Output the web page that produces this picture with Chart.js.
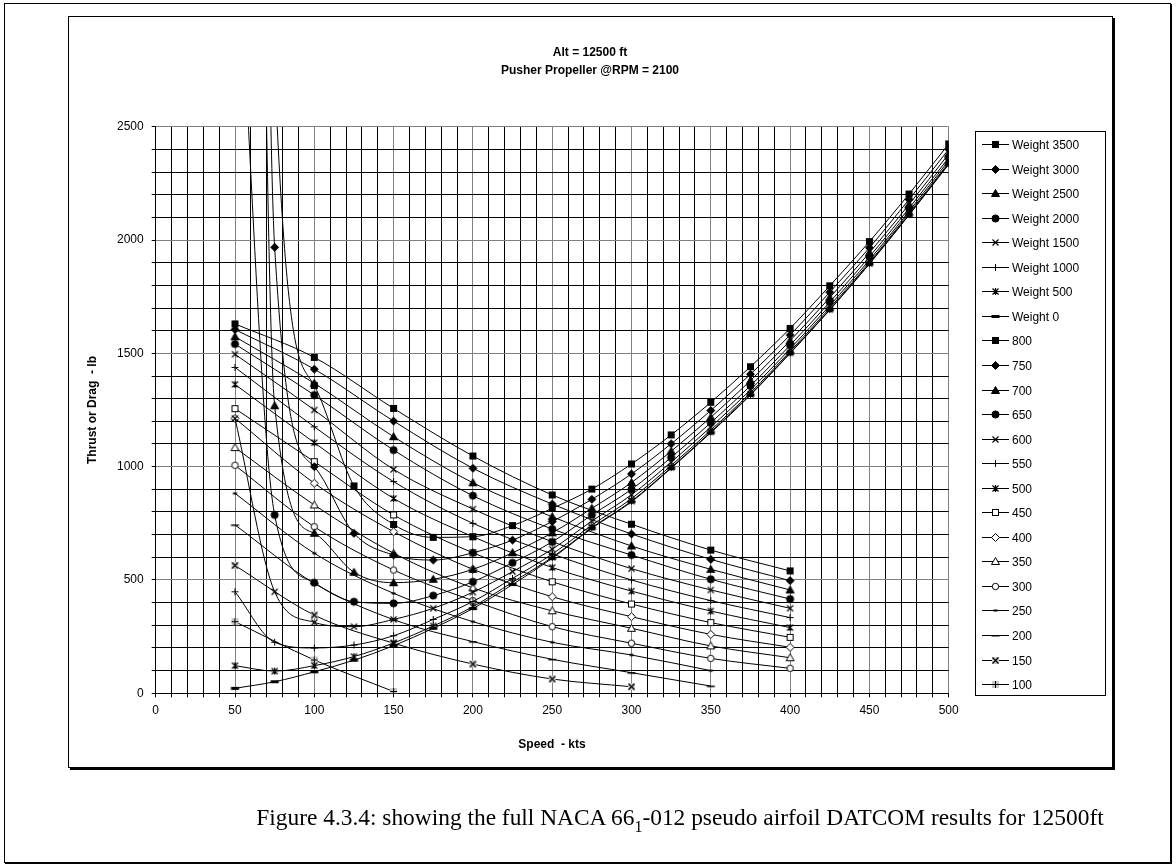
<!DOCTYPE html>
<html>
<head>
<meta charset="utf-8">
<script src="https://cdn.jsdelivr.net/npm/chart.js@4.4.0/dist/chart.umd.min.js"></script>
<style>
    html, body { margin: 0; padding: 0; background: #fff; }
    body { width: 1176px; height: 867px; position: relative; overflow: hidden; font-family: "Liberation Sans", Arial, sans-serif; }
    #page { position: absolute; left: 4px; top: 3px; width: 1165px; height: 858px; border: 1px solid #000; box-shadow: 1px 1px 0 #000; }
    #box { position: absolute; left: 68px; top: 16px; width: 1043px; height: 750px; border: 1px solid #000; box-shadow: 2px 2px 0 #000; }
    #chart { position: absolute; left: 0; top: 0; }
    .t { position: absolute; font-weight: bold; font-size: 12px; white-space: pre; color: #000; }
    #caption { position: absolute; left: 0; width: 1360px; top: 804px; text-align: center; font-family: "Liberation Serif", "Times New Roman", serif; font-size: 23.4px; white-space: nowrap; }
    #caption sub { font-size: 16px; vertical-align: -7px; line-height: 0; }
</style>
</head>
<body>
<div id="page"></div>
<div id="box"></div>
<canvas id="chart" width="1176" height="867"></canvas>
<div class="t" style="left:390px;width:400px;text-align:center;top:45px;">Alt = 12500 ft</div>
<div class="t" style="left:390px;width:400px;text-align:center;top:63px;">Pusher Propeller @RPM = 2100</div>
<div class="t" style="left:92px;top:410px;transform:translate(-50%,-50%) rotate(-90deg);">Thrust or Drag  - lb</div>
<div class="t" style="left:552px;top:744px;transform:translate(-50%,-50%);">Speed  - kts</div>
<div id="caption">Figure 4.3.4: showing the full NACA 66<sub>1</sub>-012 pseudo airfoil DATCOM results for 12500ft</div>
<script>
// speeds (kts)
const speedW = [50, 75, 100, 125, 150, 175, 200, 225, 250, 275, 300, 325, 350, 375, 400, 425, 450, 475, 500];
const speedT = [50, 100, 150, 200, 250, 300, 350, 400];

// drag (lb) for each aircraft weight, read at speedW
const weight3500 = [25000, 2750, 1358, 915, 745, 688, 691, 740, 816, 901, 1012, 1140, 1284, 1441, 1610, 1798, 1993, 2203, 2424];
const weight3000 = [20000, 1968, 1000, 706, 610, 588, 620, 676, 758, 856, 968, 1101, 1248, 1408, 1581, 1770, 1966, 2179, 2400];
const weight2500 = [15000, 1269, 706, 534, 488, 503, 547, 620, 708, 816, 930, 1068, 1218, 1380, 1556, 1746, 1944, 2157, 2380];
const weight2000 = [3600, 787, 488, 404, 397, 431, 492, 576, 668, 787, 900, 1041, 1194, 1357, 1536, 1726, 1926, 2140, 2363];
const weight1500 = [1213, 448, 313, 294, 326, 375, 446, 537, 636, 760, 876, 1020, 1175, 1339, 1520, 1711, 1912, 2127, 2351];
const weight1000 = [448, 225, 200, 213, 254, 326, 405, 507, 614, 742, 859, 1005, 1161, 1326, 1509, 1700, 1902, 2118, 2341];
const weight500 = [122, 98, 122, 162, 222, 297, 382, 490, 600, 731, 848, 996, 1153, 1319, 1502, 1693, 1896, 2112, 2336];
const weight0 = [22, 51, 95, 146, 210, 287, 374, 480, 596, 728, 845, 993, 1150, 1316, 1500, 1691, 1894, 2110, 2334];

// thrust (lb) for each power setting, read at speedT
const thrust800 = [1630, 1482, 1257, 1047, 875, 746, 632, 540];
const thrust750 = [1605, 1430, 1201, 993, 835, 703, 591, 497];
const thrust700 = [1573, 1368, 1132, 929, 779, 650, 547, 456];
const thrust650 = [1541, 1316, 1073, 872, 725, 610, 503, 416];
const thrust600 = [1496, 1250, 988, 813, 669, 550, 456, 375];
const thrust550 = [1438, 1176, 934, 750, 615, 500, 409, 334];
const thrust500 = [1363, 1106, 860, 691, 555, 451, 363, 290];
const thrust450 = [1256, 1022, 787, 620, 492, 394, 312, 247];
const thrust400 = [1213, 927, 713, 547, 426, 338, 260, 203];
const thrust350 = [1084, 831, 618, 465, 364, 287, 209, 157];
const thrust300 = [1006, 735, 544, 409, 294, 221, 154, 110];
const thrust250 = [882, 618, 441, 316, 225, 169, 100];
const thrust200 = [743, 485, 325, 228, 150, 91, 32];
const thrust150 = [564, 345, 221, 129, 63, 29];
const thrust100 = [316, 147, 8];

const seriesLabels = ['Weight 3500', 'Weight 3000', 'Weight 2500', 'Weight 2000', 'Weight 1500', 'Weight 1000', 'Weight 500', 'Weight 0',
    '800', '750', '700', '650', '600', '550', '500', '450', '400', '350', '300', '250', '200', '150', '100'];

// small canvases used as Excel-like markers
function marker(kind, filled, bg) {
    const c = document.createElement('canvas');
    c.width = 13; c.height = 13;
    const g = c.getContext('2d');
    g.translate(6.5, 6.5);
    g.strokeStyle = '#000';
    g.lineWidth = 1;
    if (bg) { g.fillStyle = bg; g.fillRect(-3.5, -3.5, 7, 7); }
    g.fillStyle = filled ? '#000' : '#fff';
    g.beginPath();
    switch (kind) {
        case 'square':
            if (filled) g.fillRect(-3.5, -3.5, 7, 7);
            else { g.fillRect(-3, -3, 6, 6); g.strokeRect(-3, -3, 6, 6); }
            break;
        case 'diamond':
            g.moveTo(0, -4); g.lineTo(4, 0); g.lineTo(0, 4); g.lineTo(-4, 0); g.closePath();
            g.fill(); g.stroke();
            break;
        case 'triangle':
            g.moveTo(0, -4); g.lineTo(4, 3); g.lineTo(-4, 3); g.closePath();
            g.fill(); g.stroke();
            break;
        case 'circle':
            g.arc(0, 0, filled ? 3.6 : 3.2, 0, Math.PI * 2);
            g.fill(); g.stroke();
            break;
        case 'x':
            g.lineWidth = 1.2;
            g.moveTo(-3, -3); g.lineTo(3, 3); g.moveTo(-3, 3); g.lineTo(3, -3);
            g.stroke();
            break;
        case 'plus':
            g.moveTo(-3.5, 0); g.lineTo(3.5, 0); g.moveTo(0, -3.5); g.lineTo(0, 3.5);
            g.stroke();
            break;
        case 'star':
            g.lineWidth = 1.2;
            g.moveTo(-3, -3); g.lineTo(3, 3); g.moveTo(-3, 3); g.lineTo(3, -3);
            g.moveTo(0, -3.5); g.lineTo(0, 3.5);
            g.stroke();
            break;
        case 'dash':
            g.fillStyle = '#000'; g.fillRect(-2, -1, 4, 2);
            break;
        case 'longdash':
            g.fillStyle = '#000'; g.fillRect(-4, -0.5, 8, 1.5);
            break;
        case 'bolddash':
            g.fillStyle = '#000'; g.fillRect(-4, -1.5, 8, 3);
            break;
    }
    return c;
}

const markers = [
    marker('square', true), marker('diamond', true), marker('triangle', true), marker('circle', true),
    marker('x'), marker('plus'), marker('star'), marker('bolddash'),
    marker('square', true), marker('diamond', true), marker('triangle', true), marker('circle', true),
    marker('x'), marker('plus'), marker('star'),
    marker('square', false), marker('diamond', false), marker('triangle', false), marker('circle', false),
    marker('dash'), marker('longdash'), marker('x', false, '#c8c8c8'), marker('plus', false, '#c8c8c8')
];

const weightData = [weight3500, weight3000, weight2500, weight2000, weight1500, weight1000, weight500, weight0];
const thrustData = [thrust800, thrust750, thrust700, thrust650, thrust600, thrust550, thrust500, thrust450,
    thrust400, thrust350, thrust300, thrust250, thrust200, thrust150, thrust100];

const pts = (xs, ys) => ys.map((y, i) => ({x: xs[i], y: y}));
const allData = weightData.map(d => pts(speedW, d)).concat(thrustData.map(d => pts(speedT, d)));

const datasets = allData.map((d, i) => ({
    label: seriesLabels[i],
    data: d,
    borderColor: '#000',
    borderWidth: 1,
    pointStyle: markers[i],
    pointRadius: 4,
    fill: false,
    cubicInterpolationMode: 'monotone'
}));

const font = {family: '"Liberation Sans", Arial, sans-serif', size: 12};

// legend drawn like the Excel one: line sample + marker + label
const legendPlugin = {
    id: 'excelLegend',
    afterDraw(chart) {
        const ctx = chart.ctx;
        ctx.save();
        ctx.strokeStyle = '#000';
        ctx.lineWidth = 1;
        ctx.strokeRect(975.5, 131.5, 130, 564);
        ctx.font = '12px "Liberation Sans", Arial, sans-serif';
        ctx.fillStyle = '#000';
        ctx.textBaseline = 'middle';
        chart.data.datasets.forEach((ds, i) => {
            const y = Math.round(144 + i * 24.55) + 0.5;
            ctx.beginPath();
            ctx.moveTo(982, y); ctx.lineTo(1009, y);
            ctx.stroke();
            ctx.drawImage(ds.pointStyle, 995.5 - 6.5, y - 6.5);
            ctx.fillText(ds.label, 1012, y + 1);
        });
        ctx.restore();
    }
};

const gridColor = (major) => (c) => (c.tick && Math.round(c.tick.value) % major === 0) ? '#808080' : '#000';

new Chart(document.getElementById('chart').getContext('2d'), {
    type: 'line',
    data: {datasets: datasets},
    plugins: [legendPlugin],
    options: {
        responsive: false,
        animation: false,
        events: [],
        layout: {padding: {left: 0, top: 126.7, right: 227.3, bottom: 113.7}},
        plugins: {legend: {display: false}, title: {display: false}, tooltip: {enabled: false}},
        scales: {
            x: {
                type: 'linear',
                min: 0,
                max: 500,
                ticks: {
                    stepSize: 10,
                    autoSkip: false,
                    maxRotation: 0,
                    padding: 6,
                    color: '#000',
                    font: font,
                    callback: v => Math.round(v) % 50 === 0 ? Math.round(v) : ''
                },
                grid: {color: gridColor(50), tickColor: '#000', tickLength: 4, lineWidth: 1},
                border: {color: '#000'},
                afterFit(s) { s.height = 60; }
            },
            y: {
                min: 0,
                max: 2500,
                ticks: {
                    stepSize: 100,
                    autoSkip: false,
                    padding: 8,
                    color: '#000',
                    font: font,
                    callback: v => Math.round(v) % 500 === 0 ? Math.round(v) : ''
                },
                grid: {color: gridColor(500), tickColor: '#000', tickLength: 4, lineWidth: 1},
                border: {color: '#000'},
                afterFit(s) { s.width = 155.7; }
            }
        }
    }
});
</script>
</body>
</html>
